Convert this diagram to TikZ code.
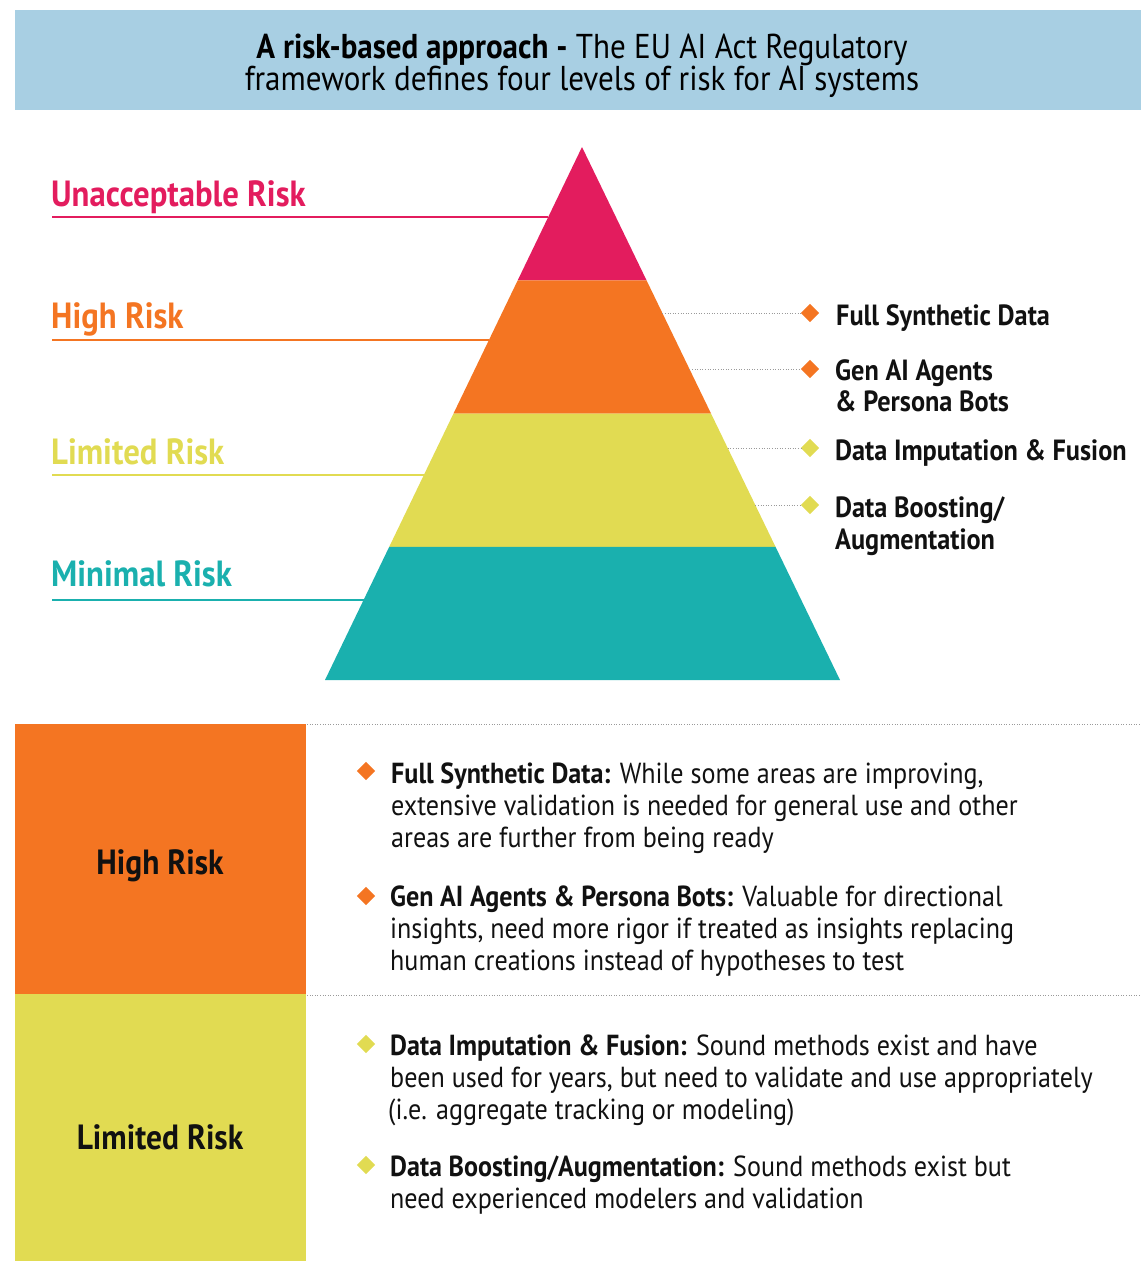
\documentclass[tikz,border=0pt]{standalone}
\usepackage{fontspec}
\setmainfont{PT Sans}[FakeStretch=0.9]
\usetikzlibrary{shapes.geometric,calc}

\definecolor{riskred}{HTML}{E31C5E}
\definecolor{riskorange}{HTML}{F47522}
\definecolor{riskyellow}{HTML}{E1DB52}
\definecolor{riskteal}{HTML}{1AB0AE}
\definecolor{headblue}{HTML}{A8CFE3}
\definecolor{dotgray}{HTML}{9A9A9A}
\definecolor{inkblack}{HTML}{111111}

\begin{document}
\begin{tikzpicture}[x=1pt,y=-1pt,
  line/.style={anchor=base west,inner sep=0pt,text=inkblack},
  body/.style={line,font=\fontsize{29}{32}\selectfont},
  sidelabel/.style={line,font=\fontsize{29.2}{32}\selectfont\bfseries},
  levellabel/.style={anchor=base west,inner sep=0pt,font=\fontsize{36.4}{40}\selectfont\bfseries},
  boxlabel/.style={inner sep=0pt,text=inkblack,font=\fontsize{35}{38}\selectfont\bfseries},
  bullet/.style={rectangle,rotate=45,inner sep=0pt,minimum size=13pt,fill=#1},
  leader/.style={dotgray,line width=1pt,dash pattern=on 1pt off 1.6pt},
  underline/.style={line width=2.6pt,#1}
]
\useasboundingbox (0,0) rectangle (1141,1261);

% title band
\fill[headblue] (15,10) rectangle (1141,110);
\node[inner sep=0pt,anchor=base,font=\fontsize{34.5}{36}\selectfont] (title1) at (582,58)
  {\textbf{A risk-based approach -} The EU AI Act Regulatory};
\node[inner sep=0pt,anchor=base,font=\fontsize{34.5}{36}\selectfont] (title2) at (582,90)
  {framework defines four levels of risk for AI systems};

% pyramid corners and band boundaries
\coordinate (apex) at (582,147);
\coordinate (bl) at (325,680);
\coordinate (br) at (840,680);
\foreach \t/\n in {0.25/a,0.5/b,0.75/c}{
  \coordinate (L\n) at ($(apex)!\t!(bl)$);
  \coordinate (R\n) at ($(apex)!\t!(br)$);
}
\fill[riskred]    (apex) -- (Ra) -- (La) -- cycle;
\fill[riskorange] (La) -- (Ra) -- (Rb) -- (Lb) -- cycle;
\fill[riskyellow] (Lb) -- (Rb) -- (Rc) -- (Lc) -- cycle;
\fill[riskteal]   (Lc) -- (Rc) -- (br) -- (bl) -- cycle;

% level labels on the left
\node[levellabel,text=riskred]    (lvlU) at (51,206) {Unacceptable Risk};
\node[levellabel,text=riskorange] (lvlH) at (51,328) {High Risk};
\node[levellabel,text=riskyellow] (lvlL) at (51,464) {Limited Risk};
\node[levellabel,text=riskteal]   (lvlM) at (51,586) {Minimal Risk};

\coordinate (uU) at (52,217);  \coordinate (eU) at ($(apex)!0.1313!(bl)$);
\coordinate (uH) at (52,340);  \coordinate (eH) at ($(apex)!0.3621!(bl)$);
\coordinate (uL) at (52,475);  \coordinate (eL) at ($(apex)!0.6154!(bl)$);
\coordinate (uM) at (52,600);  \coordinate (eM) at ($(apex)!0.8499!(bl)$);
\draw[underline=riskred]    (uU) -- (uU -| eU);
\draw[underline=riskorange] (uH) -- (uH -| eH);
\draw[underline=riskyellow] (uL) -- (uL -| eL);
\draw[underline=riskteal]   (uM) -- (uM -| eM);

% use cases on the right
\node[bullet=riskorange] (d1) at (810,313) {};
\node[bullet=riskorange] (d2) at (810,369) {};
\node[bullet=riskyellow] (d3) at (810,448) {};
\node[bullet=riskyellow] (d4) at (810,505) {};
\coordinate (e1) at ($(apex)!0.3114!(br)$);
\coordinate (e2) at ($(apex)!0.4165!(br)$);
\coordinate (e3) at ($(apex)!0.5647!(br)$);
\coordinate (e4) at ($(apex)!0.6717!(br)$);
\foreach \i in {1,2,3,4}{
  \draw[leader] (d\i.center -| e\i) -- ([xshift=-9pt]d\i.center);
}
\node[sidelabel] (s1)  at (836,325) {Full Synthetic Data};
\node[sidelabel] (s2a) at (835,380) {Gen AI Agents};
\node[sidelabel] (s2b) at (835,411) {\& Persona Bots};
\node[sidelabel] (s3)  at (835,460) {Data Imputation \& Fusion};
\node[sidelabel] (s4a) at (835,517) {Data Boosting/};
\node[sidelabel] (s4b) at (835,549) {Augmentation};

% detail table
\fill[riskorange] (15,724) rectangle (306,994);
\fill[riskyellow] (15,994) rectangle (306,1261);
\coordinate (t0) at (307,724);
\coordinate (t1) at (307,995);
\draw[leader] (t0) -- (t0 -| 1141,0);
\draw[leader] (t1) -- (t1 -| 1141,0);
\node[boxlabel] (bxH) at (160,866) {High Risk};
\node[boxlabel] (bxL) at (160,1137) {Limited Risk};

\node[bullet=riskorange] (b1) at (366,771) {};
\node[body] (p1a) at (391,783) {\textbf{Full Synthetic Data:} While some areas are improving,};
\node[body] (p1b) at (391,815) {extensive validation is needed for general use and other};
\node[body] (p1c) at (391,847) {areas are further from being ready};

\node[bullet=riskorange] (b2) at (366,896) {};
\node[body] (p2a) at (390,906) {\textbf{Gen AI Agents \& Persona Bots:} Valuable for directional};
\node[body] (p2b) at (390,938) {insights, need more rigor if treated as insights replacing};
\node[body] (p2c) at (390,970) {human creations instead of hypotheses to test};

\node[bullet=riskyellow] (b3) at (366,1044) {};
\node[body] (p3a) at (390,1055) {\textbf{Data Imputation \& Fusion:} Sound methods exist and have};
\node[body] (p3b) at (390,1087) {been used for years, but need to validate and use appropriately};
\node[body] (p3c) at (388,1119) {(i.e. aggregate tracking or modeling)};

\node[bullet=riskyellow] (b4) at (366,1165) {};
\node[body] (p4a) at (390,1176) {\textbf{Data Boosting/Augmentation:} Sound methods exist but};
\node[body] (p4b) at (390,1208) {need experienced modelers and validation};
\end{tikzpicture}
\end{document}
